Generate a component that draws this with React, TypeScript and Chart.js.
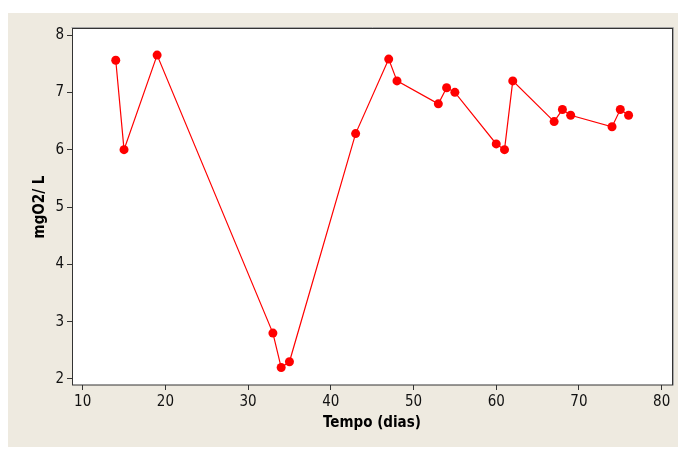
import React, { useEffect, useRef } from "react";
import { Chart, registerables } from "chart.js";

Chart.register(...registerables);

const days = [14, 15, 19, 33, 34, 35, 43, 47, 48, 53, 54, 55, 60, 61, 62, 67, 68, 69, 74, 75, 76];
const oxygen = [7.56, 6.0, 7.65, 2.8, 2.2, 2.3, 6.28, 7.58, 7.2, 6.8, 7.08, 7.0, 6.1, 6.0, 7.2, 6.49, 6.7, 6.6, 6.4, 6.7, 6.6];
const xTicks = [10, 20, 30, 40, 50, 60, 70, 80];
const yTicks = [2, 3, 4, 5, 6, 7, 8];
const xTitle = "Tempo (dias)";
const yTitle = "mgO2/ L";

const FONT = "'Liberation Sans Narrow', 'DejaVu Sans Condensed', 'Liberation Sans', sans-serif";

const framePlugin = {
  id: "frame",
  beforeDraw(chart: any) {
    const { ctx, chartArea } = chart;
    ctx.save();
    ctx.fillStyle = "#ffffff";
    ctx.fillRect(0, 0, chart.width, chart.height);
    ctx.fillStyle = "#eeeae0";
    ctx.fillRect(8, 13, chart.width - 8, 434);
    ctx.fillStyle = "#ffffff";
    ctx.fillRect(chartArea.left, chartArea.top, chartArea.right - chartArea.left, chartArea.bottom - chartArea.top);
    ctx.restore();
  },
  beforeDatasetsDraw(chart: any) {
    const { ctx, chartArea } = chart;
    ctx.save();
    ctx.strokeStyle = "#a8a8a8";
    ctx.lineWidth = 1;
    ctx.beginPath();
    ctx.moveTo(chartArea.left - 0.5, chartArea.top - 1.5);
    ctx.lineTo(chartArea.right + 1.5, chartArea.top - 1.5);
    ctx.lineTo(chartArea.right + 1.5, chartArea.bottom + 0.5);
    ctx.stroke();
    ctx.strokeStyle = "#333333";
    ctx.strokeRect(chartArea.left + 0.5, chartArea.top - 0.5, chartArea.right - chartArea.left, chartArea.bottom - chartArea.top + 0.5);
    ctx.restore();
  },
};

export default function App() {
  const ref = useRef<HTMLCanvasElement | null>(null);
  useEffect(() => {
    if (!ref.current) return;
    const chart = new Chart(ref.current, {
      type: "line",
      data: {
        datasets: [
          {
            data: days.map((d, i) => ({ x: d, y: oxygen[i] })),
            borderColor: "#ff0000",
            backgroundColor: "#ff0000",
            borderWidth: 1.2,
            pointRadius: 4.5,
            pointBorderWidth: 0,
            pointBackgroundColor: "#ff0000",
            tension: 0,
            fill: false,
          },
        ],
      },
      options: {
        responsive: false,
        animation: false,
        layout: { padding: { top: 29, right: 6, left: 0, bottom: 0 } },
        plugins: { legend: { display: false }, tooltip: { enabled: false } },
        scales: {
          x: {
            type: "linear",
            min: 8.71,
            max: 81.25,
            afterBuildTicks: (s: any) => {
              s.ticks = xTicks.map((v) => ({ value: v }));
            },
            afterFit: (s: any) => {
              s.height = 72;
            },
            grid: { drawOnChartArea: false, drawTicks: true, tickLength: 5, color: "#333333" },
            border: { display: false },
            ticks: { color: "#111111", font: { family: FONT, size: 15 }, padding: 3, maxRotation: 0 },
            title: { display: true, text: xTitle, color: "#000000", font: { family: FONT, size: 15, weight: "bold" }, padding: { top: 0, bottom: 25 } },
          },
          y: {
            type: "linear",
            min: 1.895,
            max: 8.105,
            afterBuildTicks: (s: any) => {
              s.ticks = yTicks.map((v) => ({ value: v }));
            },
            afterFit: (s: any) => {
              s.width = 72;
            },
            grid: { drawOnChartArea: false, drawTicks: true, tickLength: 5, color: "#333333" },
            border: { display: false },
            ticks: { color: "#111111", font: { family: FONT, size: 15 }, padding: 3 },
            title: { display: true, text: yTitle, color: "#000000", font: { family: FONT, size: 15, weight: "bold" }, padding: { top: 31, bottom: 0 } },
          },
        },
      },
      plugins: [framePlugin],
    });
    return () => chart.destroy();
  }, []);
  return (
    <div style={{ position: "absolute", left: 0, top: 0, width: 678, height: 457 }}>
      <canvas ref={ref} width={678} height={457} style={{ display: "block" }} />
    </div>
  );
}
